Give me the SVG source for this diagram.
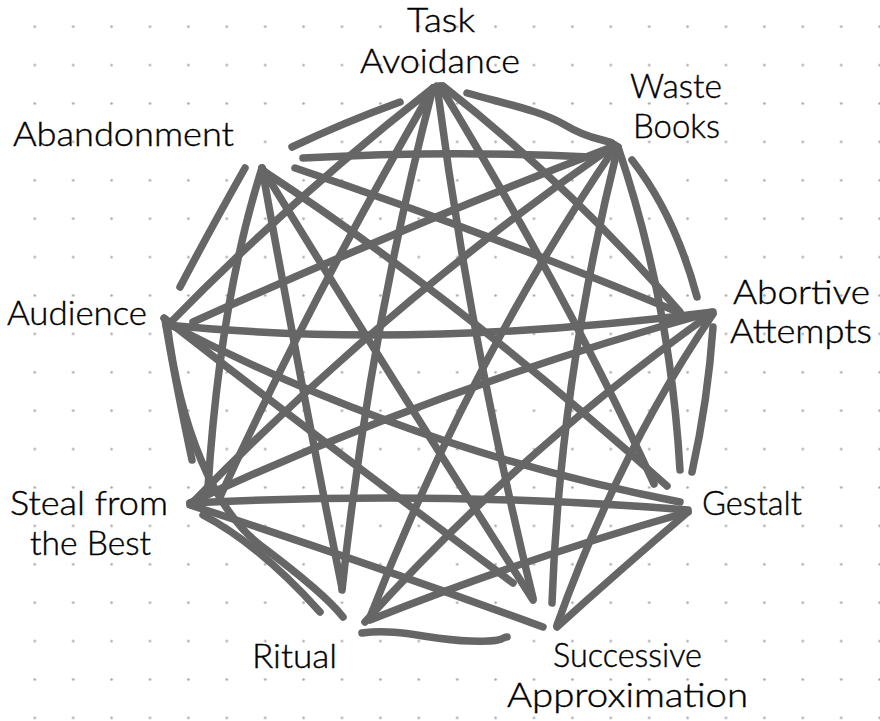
<svg xmlns="http://www.w3.org/2000/svg" width="880" height="721" viewBox="0 0 880 721">
<defs>
<pattern id="dots" patternUnits="userSpaceOnUse" x="15.6" y="7.5" width="38.4" height="38.4">
<circle cx="19.2" cy="19.2" r="1.3" fill="#a8a8a8"/>
</pattern>
<style>
.e{fill:none;stroke:#666;stroke-width:7.5;stroke-linecap:round;stroke-linejoin:round}
.t{font-family:Lato,"Open Sans","Liberation Sans",sans-serif;font-weight:300;font-size:33px;fill:#000;stroke:#000;stroke-width:0.4}
</style>
</defs>
<rect width="880" height="721" fill="#fff"/>
<rect width="880" height="721" fill="url(#dots)"/>
<g id="connectors">
<path class="e" d="M467,93 C505,104 540,110 565,125 S600,138 612,143"/>
<path class="e" d="M443,86 Q575,190 680,312"/>
<path class="e" d="M440,86 Q570,300 654,484"/>
<path class="e" d="M437,86 Q470,340 533,598"/>
<path class="e" d="M433,88 Q370,330 342,590"/>
<path class="e" d="M433,88 Q310,300 220,497"/>
<path class="e" d="M433,88 Q290,200 170,323"/>
<path class="e" d="M400,102 Q345,122 292,147"/>
<path class="e" d="M632,160 Q675,215 697,297"/>
<path class="e" d="M618,147 Q670,300 680,470"/>
<path class="e" d="M618,147 Q560,380 552,603"/>
<path class="e" d="M616,146 Q470,360 370,617"/>
<path class="e" d="M615,145 Q390,300 192,503"/>
<path class="e" d="M612,147 Q420,220 193,322"/>
<path class="e" d="M303,158 Q450,150 590,157"/>
<path class="e" d="M713,327 Q708,400 692,472"/>
<path class="e" d="M713,314 Q620,450 557,625"/>
<path class="e" d="M712,313 Q520,450 365,622"/>
<path class="e" d="M712,312 Q430,390 190,503"/>
<path class="e" d="M713,312 Q420,350 166,325"/>
<path class="e" d="M295,168 Q480,230 678,312"/>
<path class="e" d="M688,512 Q620,570 557,627"/>
<path class="e" d="M688,512 Q520,560 370,620"/>
<path class="e" d="M688,510 Q440,490 190,503"/>
<path class="e" d="M680,502 Q410,450 167,323"/>
<path class="e" d="M262,170 Q460,300 667,486"/>
<path class="e" d="M362,633 C400,628 430,640 470,641 S500,637 507,637"/>
<path class="e" d="M543,627 Q360,560 190,505"/>
<path class="e" d="M513,583 Q320,440 164,318"/>
<path class="e" d="M533,600 Q380,360 262,168"/>
<path class="e" d="M203,515 Q260,545 320,612"/>
<path class="e" d="M167,323 C180,430 215,510 260,545 C300,575 330,600 343,617"/>
<path class="e" d="M342,588 Q300,380 262,168"/>
<path class="e" d="M192,460 Q175,380 165,320"/>
<path class="e" d="M208,487 Q220,300 262,168"/>
<path class="e" d="M180,287 Q210,230 245,168"/>
</g>
<g id="task-avoidance"><text class="t" x="407" y="32" textLength="68" lengthAdjust="spacingAndGlyphs">Task</text><text class="t" x="360" y="73" textLength="160" lengthAdjust="spacingAndGlyphs">Avoidance</text></g>
<g id="waste-books"><text class="t" x="630" y="98" textLength="92" lengthAdjust="spacingAndGlyphs">Waste</text><text class="t" x="633" y="138" textLength="87" lengthAdjust="spacingAndGlyphs">Books</text></g>
<g id="abandonment"><text class="t" x="13" y="146" textLength="221" lengthAdjust="spacingAndGlyphs">Abandonment</text></g>
<g id="audience"><text class="t" x="7" y="325" textLength="140" lengthAdjust="spacingAndGlyphs">Audience</text></g>
<g id="abortive-attempts"><text class="t" x="733" y="304" textLength="137" lengthAdjust="spacingAndGlyphs">Abortive</text><text class="t" x="730" y="343" textLength="142" lengthAdjust="spacingAndGlyphs">Attempts</text></g>
<g id="gestalt"><text class="t" x="702" y="515" textLength="100" lengthAdjust="spacingAndGlyphs">Gestalt</text></g>
<g id="steal-from-the-best"><text class="t" x="10" y="515" textLength="158" lengthAdjust="spacingAndGlyphs">Steal from</text><text class="t" x="30" y="555" textLength="121" lengthAdjust="spacingAndGlyphs">the Best</text></g>
<g id="ritual"><text class="t" x="252" y="668" textLength="85" lengthAdjust="spacingAndGlyphs">Ritual</text></g>
<g id="successive-approximation"><text class="t" x="553" y="667" textLength="149" lengthAdjust="spacingAndGlyphs">Successive</text><text class="t" x="507" y="707" textLength="241" lengthAdjust="spacingAndGlyphs">Approximation</text></g>
</svg>
